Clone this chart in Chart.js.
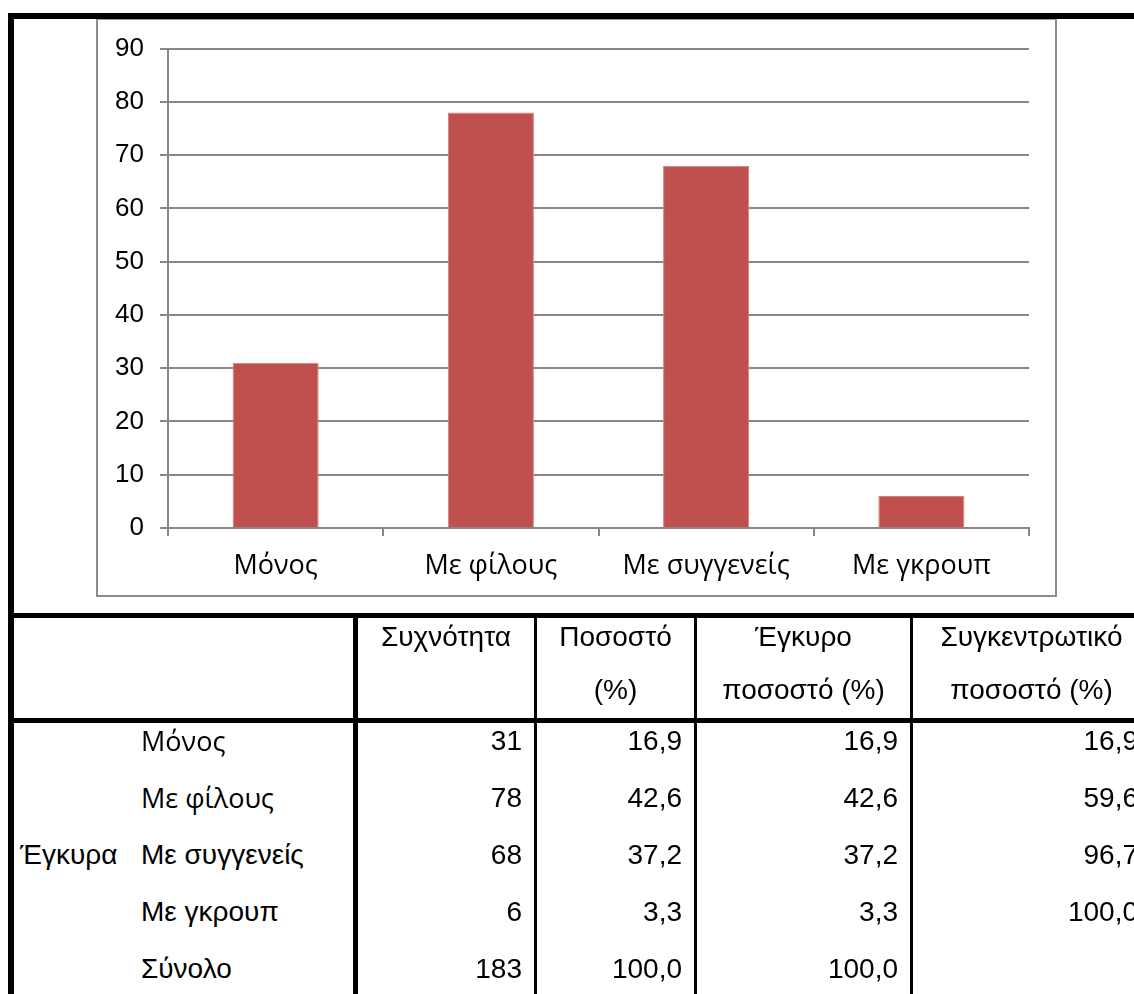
<!DOCTYPE html>
<html>
<head>
<meta charset="utf-8">
<script src="https://cdn.jsdelivr.net/npm/chart.js@4.4.0/dist/chart.umd.min.js"></script>
<style>
  html, body { margin: 0; padding: 0; background: #fff; }
  #page { position: relative; width: 1134px; height: 994px; overflow: hidden; background: #fff;
          font-family: "Liberation Sans", Arial, sans-serif; font-size: 28px; color: #000; }
  .bar { position: absolute; background: #000; }
  #frame { position: absolute; left: 96px; top: 18px; width: 957px; height: 575px; border: 2px solid #8c8c8c; border-top-color: #9a9a9a; }
  #chartBox { position: absolute; left: 97px; top: 17px; }
  #chartBox canvas { display: block; }
  .txt { position: absolute; white-space: nowrap; }
  .hd { text-align: center; line-height: 53px; }
  .num { text-align: right; line-height: 57px; height: 57px; }
  .lbl { line-height: 57px; height: 57px; }
</style>
</head>
<body>
<div id="page">
  <div id="frame"></div>
  <div id="chartBox"><canvas id="grafico" width="959" height="578"></canvas></div>
</div>
<script>
  // dados
  const categorias = ['Μόνος', 'Με φίλους', 'Με συγγενείς', 'Με γκρουπ'];
  const frequencia = [31, 78, 68, 6];
  const yMax = 90;
  const yPasso = 10;

  const cabecalhos = [['Συχνότητα'], ['Ποσοστό', '(%)'], ['Έγκυρο', 'ποσοστό (%)'], ['Συγκεντρωτικό', 'ποσοστό (%)']];
  const grupo = 'Έγκυρα';
  const linhas = ['Μόνος', 'Με φίλους', 'Με συγγενείς', 'Με γκρουπ', 'Σύνολο'];
  const colFreq = ['31', '78', '68', '6', '183'];
  const colPct = ['16,9', '42,6', '37,2', '3,3', '100,0'];
  const colValido = ['16,9', '42,6', '37,2', '3,3', '100,0'];
  const colAcum = ['16,9', '59,6', '96,7', '100,0', ''];

  const page = document.getElementById('page');

  function linha(x, y, w, h) {
    const d = document.createElement('div');
    d.className = 'bar';
    d.style.cssText = `left:${x}px;top:${y}px;width:${w}px;height:${h}px`;
    page.appendChild(d);
  }

  function texto(cls, html, css) {
    const d = document.createElement('div');
    d.className = 'txt ' + cls;
    d.innerHTML = html;
    d.style.cssText = css;
    page.appendChild(d);
  }

  // 1. GRADE DA TABELA
  linha(8, 13, 1200, 6);      // topo
  linha(8, 13, 6, 1000);      // esquerda
  linha(8, 613, 1200, 5);     // acima do cabeçalho
  linha(8, 718, 1200, 5);     // abaixo do cabeçalho

  // bordas das colunas: [x, largura]
  const divisores = [[353, 5], [534, 3], [694, 3], [910, 3], [1150, 3]];
  divisores.forEach(([x, w]) => linha(x, 613, w, 400));

  // 2. CABEÇALHO
  cabecalhos.forEach((txt, i) => {
    const esq = divisores[i][0] + divisores[i][1];
    const dir = divisores[i + 1][0];
    texto('hd', txt.join('<br>'), `left:${esq}px;width:${dir - esq}px;top:610px;`);
  });

  // 3. CORPO
  const topoCorpo = 712;
  linhas.forEach((nome, r) => {
    const y = topoCorpo + r * 57;
    const fonteLbl = r < 2 ? 'font-family:"Open Sans",sans-serif;font-size:27px;' : '';
    texto('lbl', nome, `left:141px;top:${y}px;${fonteLbl}`);
    [colFreq, colPct, colValido, colAcum].forEach((col, c) => {
      const esq = divisores[c][0] + divisores[c][1];
      const dir = divisores[c + 1][0] - 12;
      texto('num', col[r], `left:${esq}px;width:${dir - esq}px;top:${y}px;`);
    });
  });
  texto('lbl', grupo, `left:20px;top:${topoCorpo + 2 * 57}px;`);

  // 4. GRÁFICO
  const cinza = '#878787';
  new Chart(document.getElementById('grafico'), {
    type: 'bar',
    data: {
      labels: categorias,
      datasets: [{ data: frequencia, backgroundColor: '#C0504D', borderColor: '#d3807d', borderWidth: 1,
                   barPercentage: 0.4, categoryPercentage: 1.0 }]
    },
    options: {
      responsive: false,
      animation: false,
      devicePixelRatio: 1,
      layout: { padding: { top: 23, right: 27, left: 0, bottom: 0 } },
      plugins: { legend: { display: false }, tooltip: { enabled: false } },
      scales: {
        x: {
          grid: { display: true, drawOnChartArea: false, drawTicks: true, tickLength: 8, color: cinza, lineWidth: 2, offset: true },
          border: { color: cinza, width: 2 },
          ticks: { color: '#000', padding: 14, font: { family: 'Open Sans', size: 27 } },
          afterFit: s => { s.height = 67; }
        },
        y: {
          min: 0, max: yMax,
          ticks: { stepSize: yPasso, color: '#000', padding: 16, font: { family: 'Liberation Sans', size: 26 } },
          grid: { color: cinza, lineWidth: 2, tickLength: 8 },
          border: { color: cinza, width: 2 },
          afterFit: s => { s.width = 71; }
        }
      }
    }
  });
</script>
</body>
</html>
